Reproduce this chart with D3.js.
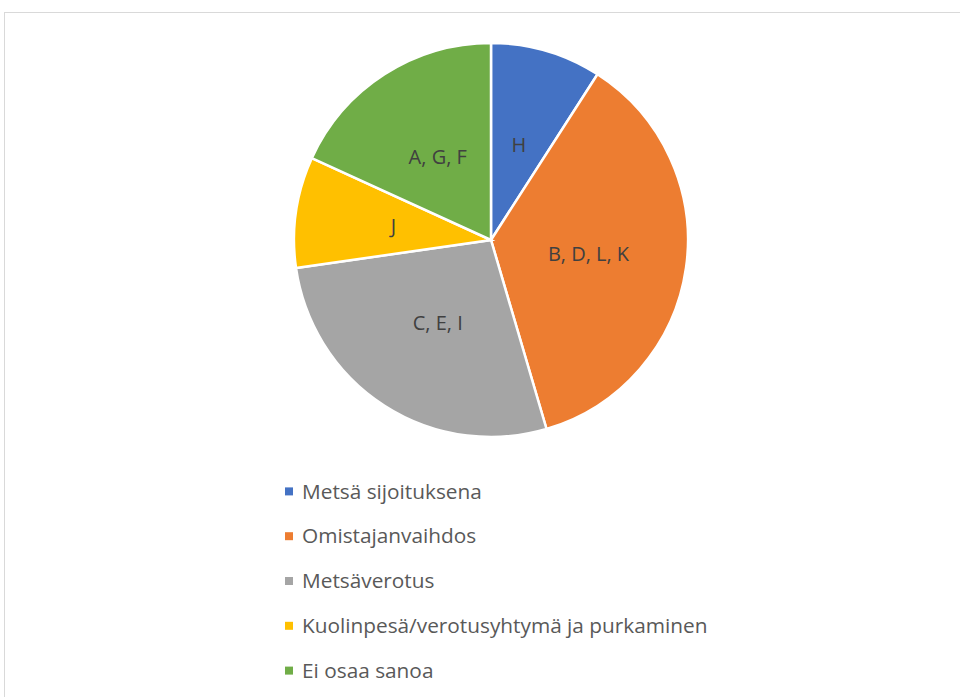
<!DOCTYPE html>
<html lang="fi">
<head>
    <meta charset="UTF-8">
    <title>Pie chart</title>
    <script src="https://d3js.org/d3.v7.min.js"></script>
    <style>
        body { margin: 0; background: #fff; }
        svg { display: block; font-family: "Open Sans", sans-serif; }
    </style>
</head>
<body>
    <div id="chart"></div>
    <script>
        // chart data
        const categories = ["Metsä sijoituksena", "Omistajanvaihdos", "Metsäverotus",
            "Kuolinpesä/verotusyhtymä ja purkaminen", "Ei osaa sanoa"];
        const values = [1, 4, 3, 1, 2];
        const sliceLabels = ["H", "B, D, L, K", "C, E, I", "J", "A, G, F"];
        const colors = ["#4472c4", "#ed7d31", "#a5a5a5", "#ffc000", "#70ad47"];

        const width = 960, height = 697;
        const cx = 491, cy = 240, radius = 197;

        const svg = d3.select('#chart').append('svg')
            .attr('width', width)
            .attr('height', height);

        // chart area border
        svg.append('rect')
            .attr('x', 4.5).attr('y', 12.5)
            .attr('width', 970).attr('height', 700)
            .attr('fill', 'none')
            .attr('stroke', '#d9d9d9');

        const pie = d3.pie().sort(null).value(d => d)(values);
        const arc = d3.arc().innerRadius(0).outerRadius(radius);
        const labelArc = d3.arc().innerRadius(radius * 0.5).outerRadius(radius * 0.5);

        const g = svg.append('g').attr('transform', `translate(${cx},${cy})`);

        g.selectAll('path')
            .data(pie)
            .enter().append('path')
            .attr('d', arc)
            .attr('fill', (d, i) => colors[i])
            .attr('stroke', '#fff')
            .attr('stroke-width', 2.5);

        g.selectAll('text')
            .data(pie)
            .enter().append('text')
            .attr('transform', d => `translate(${labelArc.centroid(d)})`)
            .attr('text-anchor', 'middle')
            .attr('dy', '0.35em')
            .attr('fill', '#404040')
            .style('font-size', '20px')
            .text((d, i) => sliceLabels[i]);

        // legend
        const y = d3.scaleBand().domain(categories).range([469, 693]);
        const legend = svg.append('g');
        const rows = legend.selectAll('g')
            .data(categories)
            .enter().append('g')
            .attr('transform', d => `translate(0,${y(d) + y.bandwidth() / 2})`);

        rows.append('rect')
            .attr('x', 285).attr('y', -4)
            .attr('width', 8).attr('height', 8)
            .attr('fill', (d, i) => colors[i]);

        rows.append('text')
            .attr('x', 302)
            .attr('dy', '0.35em')
            .attr('fill', '#595959')
            .style('font-size', '20.8px')
            .text(d => d);
    </script>
</body>
</html>
